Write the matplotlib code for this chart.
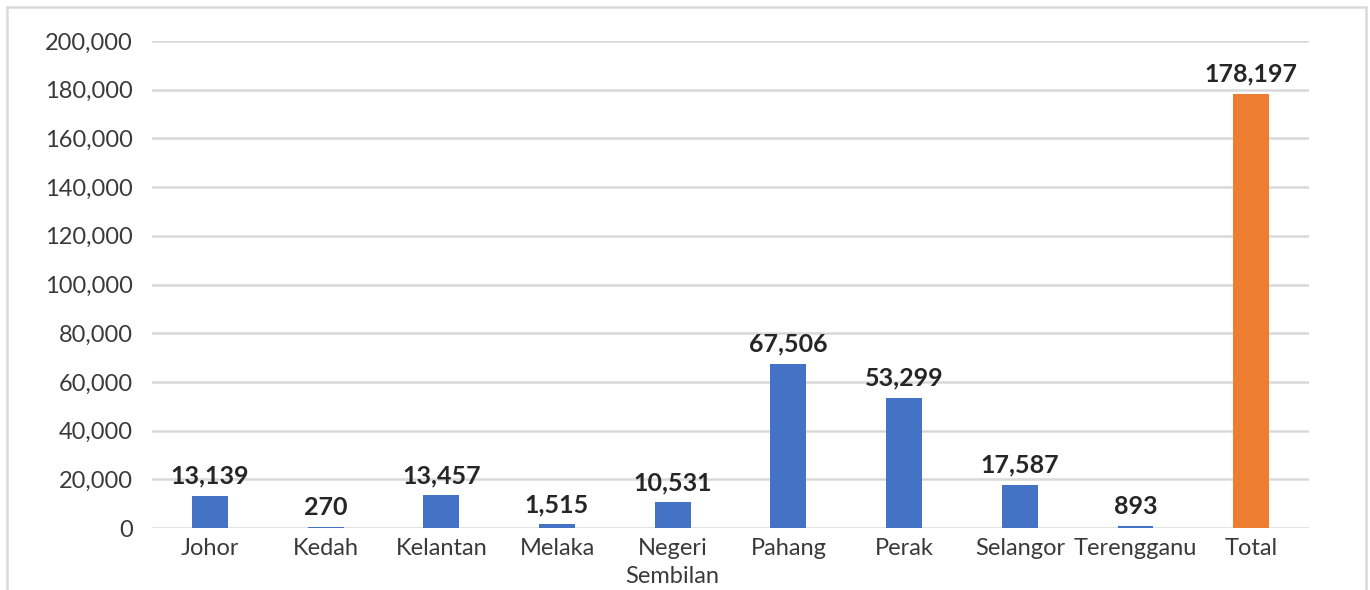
import matplotlib.pyplot as plt
from matplotlib.patches import Rectangle
from matplotlib.ticker import FuncFormatter

states = ["Johor", "Kedah", "Kelantan", "Melaka", "Negeri\nSembilan",
          "Pahang", "Perak", "Selangor", "Terengganu", "Total"]
values = [13139, 270, 13457, 1515, 10531, 67506, 53299, 17587, 893, 178197]
colors = ["#4472C4"] * 9 + ["#ED7D31"]
yticks = list(range(0, 200001, 20000))

plt.rcParams["font.family"] = ["Lato", "DejaVu Sans"]

fig = plt.figure(figsize=(13.7, 5.9), dpi=100)
ax = fig.add_axes([0.111, 0.105, 0.8445, 0.8255])

x = range(len(states))
bars = ax.bar(x, values, width=0.31, color=colors, zorder=3)

for xi, v in zip(x, values):
    ax.annotate(f"{v:,}", (xi, v), xytext=(0, 6), textcoords="offset points",
                ha="center", va="bottom", fontsize=18, fontweight="bold",
                color="#262626")

ax.set_xlim(-0.5, len(states) - 0.5)
ax.set_ylim(0, 200000)
ax.set_yticks(yticks)
ax.yaxis.set_major_formatter(FuncFormatter(lambda v, p: f"{int(v):,}"))
ax.set_xticks(list(x))
ax.set_xticklabels(states, linespacing=1.45)
ax.tick_params(axis="both", length=0, labelsize=17, labelcolor="#3a3a3a")
ax.tick_params(axis="y", pad=14)
ax.tick_params(axis="x", pad=7)
ax.grid(axis="y", color="#d9d9d9", linewidth=1.8, zorder=0)
for s in ax.spines.values():
    s.set_visible(False)

fig.patches.append(Rectangle((7 / 1370, -0.01), 1359 / 1370, 1 - 7 / 590 + 0.01,
                             transform=fig.transFigure, fill=False,
                             edgecolor="#d9d9d9", linewidth=1.8))

fig.savefig("out.png", dpi=100)
